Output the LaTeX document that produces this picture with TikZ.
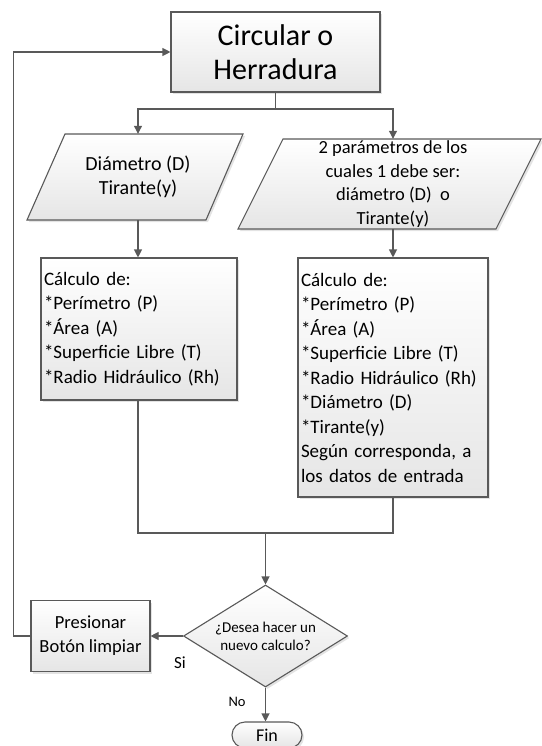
\documentclass[tikz,border=0pt]{standalone}
\usepackage{fontspec}
\setmainfont{Carlito}
\usetikzlibrary{arrows.meta,shadows,shapes.geometric}
\definecolor{ln}{HTML}{595959}
\tikzset{
  base/.style={draw=ln, line width=1.1pt, top color=white, bottom color=black!10,
    drop shadow={shadow xshift=2pt,shadow yshift=-2pt,opacity=0.22}},
  box/.style={base, rectangle, inner sep=0pt, align=center},
  calcbox/.style={base, rectangle, inner xsep=3pt, inner ysep=0pt, align=left,
    font=\fontsize{19}{24.5}\selectfont},
  txt/.style={inner sep=0pt, align=center},
  conn/.style={draw=ln, line width=1.1pt},
  arr/.style={conn, -{Triangle[length=8pt,width=8pt]}},
}
\begin{document}
\begin{tikzpicture}[x=1pt,y=-1pt]
\useasboundingbox (0,0) rectangle (541,746);
% top box
\node[box, minimum width=209pt, minimum height=80pt,
  font=\fontsize{30}{34}\selectfont] (start) at (275.5,52) {Circular o\\Herradura};
% left parallelogram
\path[base] (65,134) -- (243,134) -- (206,220) -- (27,220) -- cycle;
\node[txt, minimum height=86pt, minimum width=150pt,
  font=\fontsize{20}{24}\selectfont] (lp) at (138,177) {Diámetro (D)\\Tirante(y)};
% right parallelogram
\path[base] (283,139) -- (541,139) -- (496,229) -- (238,229) -- cycle;
\node[txt, minimum height=90pt, minimum width=200pt,
  font=\fontsize{18.5}{23.5}\selectfont] (rp) at (393,184)
  {2 parámetros de los\\cuales 1 debe ser:\\diámetro (D)~~o\\Tirante(y)};
% calc boxes
\node[calcbox, text width=190pt, minimum height=142pt] (lc) at (139,329)
  {Cálculo de:\\{}*Perímetro (P)\\{}*Área (A)\\{}*Superficie Libre (T)\\{}*Radio Hidráulico (Rh)};
\node[calcbox, text width=184pt, minimum height=239pt] (rc) at (393,377.5)
  {Cálculo de:\\{}*Perímetro (P)\\{}*Área (A)\\{}*Superficie Libre (T)\\{}*Radio Hidráulico (Rh)\\{}*Diámetro (D)\\{}*Tirante(y)\\Según corresponda, a\\los datos de entrada};
% decision
\node[base, diamond, inner sep=0pt, aspect=1.6, minimum width=164pt, minimum height=102pt,
  align=center, font=\fontsize{15}{18}\selectfont] (dec) at (265.5,636)
  {¿Desea hacer un\\nuevo calculo?};
% presionar
\node[box, minimum width=119pt, minimum height=71pt,
  font=\fontsize{18.5}{24}\selectfont] (pres) at (90.5,636) {Presionar\\Botón limpiar};
% fin
\node[box, minimum width=70pt, minimum height=26pt, rounded corners=13pt,
  font=\fontsize{18}{22}\selectfont] (fin) at (267,735) {Fin};
% labels
\node[txt, font=\fontsize{17}{20}\selectfont] (si) at (180,663) {Si};
\node[txt, font=\fontsize{14.5}{17}\selectfont] (no) at (237,702) {No};
% connectors
\coordinate (split) at (275.5,109);
\coordinate (merge) at (265.5,533);
\draw[conn] (start.south) -- (split);
\draw[arr] (split) -| (lp.north);
\draw[arr] (split) -| (rp.north);
\draw[arr] (lp.south) -- (lp.south |- lc.north);
\draw[arr] (rp.south) -- (rc.north);
\draw[conn] (lc.south -| lp.south) |- (merge);
\draw[conn] (rc.south) |- (merge);
\draw[arr] (merge) -- (dec.north);
\draw[arr] (dec.west) -- (pres.east);
\draw[arr] (dec.south) -- (dec.south |- fin.north);
\draw[arr] (pres.west) -- ++(-17,0) |- (start.west);
\end{tikzpicture}
\end{document}
